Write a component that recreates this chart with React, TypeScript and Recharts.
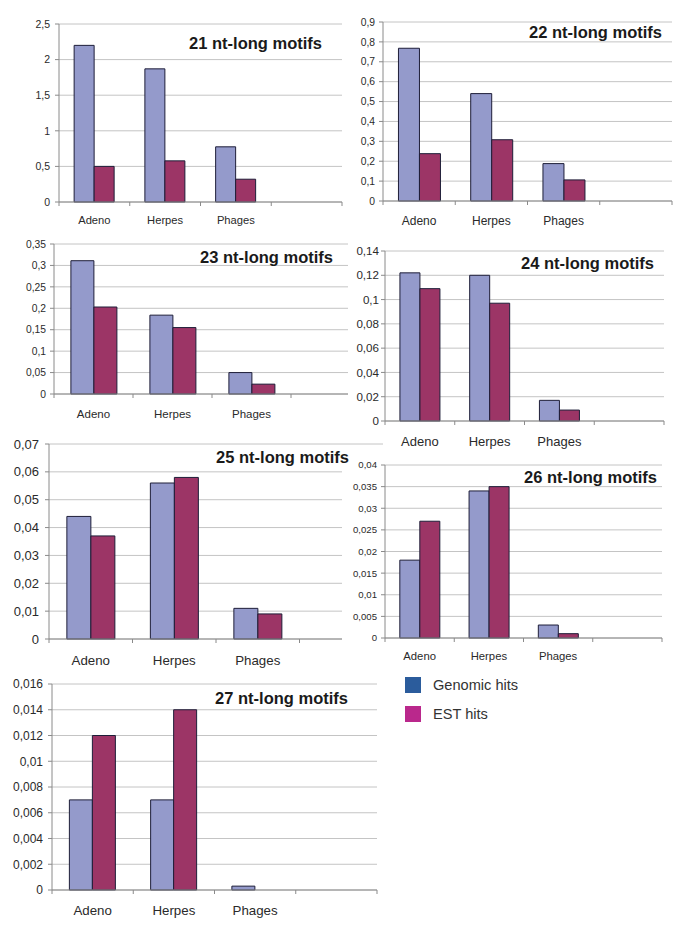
import { BarChart, Bar, XAxis, YAxis, CartesianGrid } from "recharts";

const CATEGORIES = ["Adeno", "Herpes", "Phages", ""];

const GENOMIC_21 = [2.2, 1.87, 0.775, null];
const EST_21 = [0.5, 0.578, 0.32, null];
const TICKS_21 = [0, 0.5, 1, 1.5, 2, 2.5];

const GENOMIC_22 = [0.768, 0.54, 0.188, null];
const EST_22 = [0.238, 0.308, 0.106, null];
const TICKS_22 = [0, 0.1, 0.2, 0.3, 0.4, 0.5, 0.6, 0.7, 0.8, 0.9];

const GENOMIC_23 = [0.311, 0.184, 0.05, null];
const EST_23 = [0.203, 0.155, 0.023, null];
const TICKS_23 = [0, 0.05, 0.1, 0.15, 0.2, 0.25, 0.3, 0.35];

const GENOMIC_24 = [0.122, 0.12, 0.017, null];
const EST_24 = [0.109, 0.097, 0.009, null];
const TICKS_24 = [0, 0.02, 0.04, 0.06, 0.08, 0.1, 0.12, 0.14];

const GENOMIC_25 = [0.044, 0.056, 0.011, null];
const EST_25 = [0.037, 0.058, 0.009, null];
const TICKS_25 = [0, 0.01, 0.02, 0.03, 0.04, 0.05, 0.06, 0.07];

const GENOMIC_26 = [0.018, 0.034, 0.003, null];
const EST_26 = [0.027, 0.035, 0.001, null];
const TICKS_26 = [0, 0.005, 0.01, 0.015, 0.02, 0.025, 0.03, 0.035, 0.04];

const GENOMIC_27 = [0.007, 0.007, 0.0003, null];
const EST_27 = [0.012, 0.014, 0, null];
const TICKS_27 = [0, 0.002, 0.004, 0.006, 0.008, 0.01, 0.012, 0.014, 0.016];

const LEGEND = ["Genomic hits", "EST hits"];

const BLUE = "#949acb";
const RED = "#9c3566";
const BAR_EDGE = "#1e1e38";
const GRID = "#c4c4c4";
const AXIS = "#8a8a8a";
const FRAME = "#a8a8a8";
const TEXT = "#2a2a2a";
const LEGEND_COLORS = ["#2b5c9c", "#ba288c"];
const FONT = "'Liberation Sans', Arial, sans-serif";
const X_AXIS_H = 30;

interface PanelSpec {
  title: string;
  genomic: (number | null)[];
  est: (number | null)[];
  ticks: number[];
  box: [number, number, number, number];
  plot: [number, number, number, number];
  tickFont: number;
  tickGap: number;
  catFont: number;
  catDy: number;
  titleRight: number;
  titleY: number;
}

const PANELS: PanelSpec[] = [
  { title: "21 nt-long motifs", genomic: GENOMIC_21, est: EST_21, ticks: TICKS_21,
    box: [0, 0, 345, 232], plot: [59, 24, 342, 202],
    tickFont: 10.5, tickGap: 9, catFont: 11.2, catDy: 18, titleRight: 322, titleY: 43 },
  { title: "22 nt-long motifs", genomic: GENOMIC_22, est: EST_22, ticks: TICKS_22,
    box: [343, 0, 685, 232], plot: [383, 22, 672, 201],
    tickFont: 10.3, tickGap: 8, catFont: 12, catDy: 20, titleRight: 662, titleY: 32 },
  { title: "23 nt-long motifs", genomic: GENOMIC_23, est: EST_23, ticks: TICKS_23,
    box: [0, 232, 380, 430], plot: [54, 244, 370, 394],
    tickFont: 10.3, tickGap: 8, catFont: 11.5, catDy: 19.5, titleRight: 333, titleY: 257 },
  { title: "24 nt-long motifs", genomic: GENOMIC_24, est: EST_24, ticks: TICKS_24,
    box: [348, 232, 685, 452], plot: [385, 251, 664, 421],
    tickFont: 11.6, tickGap: 6, catFont: 13, catDy: 20, titleRight: 654, titleY: 263 },
  { title: "25 nt-long motifs", genomic: GENOMIC_25, est: EST_25, ticks: TICKS_25,
    box: [0, 432, 390, 672], plot: [49, 444, 383, 639],
    tickFont: 13, tickGap: 10, catFont: 13.3, catDy: 21, titleRight: 349, titleY: 457 },
  { title: "26 nt-long motifs", genomic: GENOMIC_26, est: EST_26, ticks: TICKS_26,
    box: [342, 460, 685, 668], plot: [385, 465, 662, 638],
    tickFont: 9.6, tickGap: 8, catFont: 11.3, catDy: 18, titleRight: 657, titleY: 477 },
  { title: "27 nt-long motifs", genomic: GENOMIC_27, est: EST_27, ticks: TICKS_27,
    box: [0, 672, 400, 934], plot: [52, 684, 377, 890],
    tickFont: 12, tickGap: 9, catFont: 13.3, catDy: 20, titleRight: 348, titleY: 698 },
];

const fmt = (v: number) => String(v).replace(".", ",");

// category labels sit in the middle, tick marks fall on the slot boundaries (Excel style)
function makeCategoryTick(fontSize: number, dy: number, bandHalf: number) {
  return (props: any) => {
    const { x, y, payload, index } = props;
    return (
      <g>
        <line x1={x - bandHalf} x2={x - bandHalf} y1={y} y2={y + 4} stroke={AXIS} />
        {index === CATEGORIES.length - 1 && (
          <line x1={x + bandHalf} x2={x + bandHalf} y1={y} y2={y + 4} stroke={AXIS} />
        )}
        <text x={x} y={y + dy} textAnchor="middle" dominantBaseline="central" fontSize={fontSize} fill={TEXT}>
          {payload.value}
        </text>
      </g>
    );
  };
}

function MotifPanel({ spec }: { spec: PanelSpec }) {
  const [bl, bt, br, bb] = spec.box;
  const [pl, pt, pr, pb] = spec.plot;
  const yW = Math.min(40, pl - bl);
  const max = spec.ticks[spec.ticks.length - 1];
  const bandHalf = (pr - pl) / CATEGORIES.length / 2;
  const data = CATEGORIES.map((cat, i) => ({ cat, genomic: spec.genomic[i], est: spec.est[i] }));

  return (
    <div style={{ position: "absolute", left: bl, top: bt, width: br - bl, height: bb - bt, background: "#fff" }}>
      <BarChart
        width={br - bl}
        height={bb - bt}
        data={data}
        margin={{ top: pt - bt, right: br - pr, bottom: bb - pb - X_AXIS_H, left: pl - bl - yW }}
        barCategoryGap="21.4%"
        barGap={0}
      >
        <CartesianGrid vertical={false} stroke={GRID} />
        <XAxis
          dataKey="cat"
          height={X_AXIS_H}
          interval={0}
          tickLine={false}
          tickSize={0}
          tickMargin={0}
          axisLine={{ stroke: AXIS }}
          tick={makeCategoryTick(spec.catFont, spec.catDy, bandHalf)}
        />
        <YAxis
          width={yW}
          domain={[0, max]}
          ticks={spec.ticks}
          interval={0}
          tickSize={4}
          tickMargin={spec.tickGap - 4}
          tickFormatter={fmt}
          tick={{ fontSize: spec.tickFont, fill: TEXT }}
          axisLine={{ stroke: AXIS }}
          tickLine={{ stroke: AXIS }}
        />
        <YAxis
          yAxisId="frame"
          orientation="right"
          width={0}
          domain={[0, max]}
          tick={false}
          tickLine={false}
          axisLine={{ stroke: FRAME }}
        />
        <Bar dataKey="genomic" fill={BLUE} stroke={BAR_EDGE} isAnimationActive={false} />
        <Bar dataKey="est" fill={RED} stroke={BAR_EDGE} isAnimationActive={false} />
      </BarChart>
      <div
        style={{
          position: "absolute",
          zIndex: 1,
          right: br - spec.titleRight,
          top: spec.titleY - bt - 10,
          lineHeight: "20px",
          fontSize: 16.5,
          fontWeight: "bold",
          color: "#1a1a1a",
          whiteSpace: "nowrap",
        }}
      >
        {spec.title}
      </div>
    </div>
  );
}

export default function App() {
  return (
    <div style={{ position: "absolute", left: 0, top: 0, width: 685, height: 934, background: "#fff", fontFamily: FONT }}>
      {PANELS.map((p) => (
        <MotifPanel key={p.title} spec={p} />
      ))}
      {LEGEND.map((label, i) => (
        <div key={label} style={{ position: "absolute", left: 405, top: 677 + i * 29, height: 16, display: "flex", alignItems: "center" }}>
          <span style={{ display: "inline-block", width: 16, height: 16, background: LEGEND_COLORS[i] }} />
          <span style={{ marginLeft: 12, fontSize: 14.6, color: "#333" }}>{label}</span>
        </div>
      ))}
    </div>
  );
}
